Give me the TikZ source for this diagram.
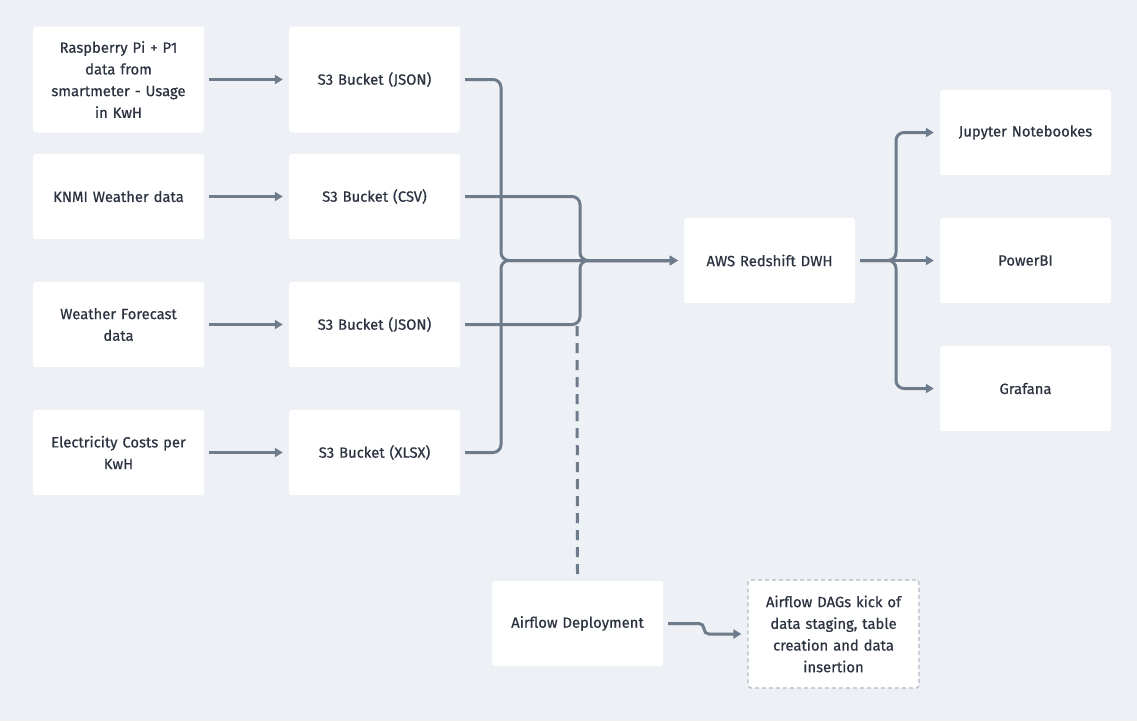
\documentclass[tikz,border=0pt]{standalone}
\usepackage{fontspec}
\setmainfont{Fira Sans}[FakeBold=0.6]
\usetikzlibrary{arrows.meta,calc}
\definecolor{bgc}{HTML}{EDF0F4}
\definecolor{linec}{HTML}{6E7B8B}
\definecolor{txtc}{HTML}{2B3240}
\definecolor{dashc}{HTML}{B3BBC6}
\tikzset{
  box/.style={fill=white, rounded corners=3pt, minimum width=171pt, minimum height=85pt,
    text width=170pt, align=center, text=txtc, font=\fontsize{14.8}{21.7}\selectfont, inner sep=0pt},
  tallbox/.style={box, minimum height=106pt},
  dashbox/.style={box, minimum height=108pt, draw=dashc, dash pattern=on 4pt off 3pt, line width=1.2pt},
  conn/.style={draw=linec, line width=3pt, -{Triangle[length=8pt,width=9pt]}, rounded corners=8pt},
  dashconn/.style={draw=linec, line width=3pt, dash pattern=on 10pt off 7pt}
}
\begin{document}
\begin{tikzpicture}[x=1pt,y=-1pt]
\fill[bgc] (0,0) rectangle (1137,721);
\useasboundingbox (0,0) rectangle (1137,721);
% sources
\node[tallbox] (src1) at (118.5,79.5) {Raspberry Pi + P1\\data from\\smartmeter - Usage\\in KwH};
\node[box] (src2) at (118.5,196.5) {KNMI Weather data};
\node[box] (src3) at (118.5,324.5) {Weather Forecast\\data};
\node[box] (src4) at (118.5,452.5) {Electricity Costs per\\KwH};
% buckets
\node[tallbox] (s3a) at (374.5,79.5) {S3 Bucket (JSON)};
\node[box] (s3b) at (374.5,196.5) {S3 Bucket (CSV)};
\node[box] (s3c) at (374.5,324.5) {S3 Bucket (JSON)};
\node[box] (s3d) at (374.5,452.5) {S3 Bucket (XLSX)};
% dwh
\node[box] (aws) at (769.5,260.5) {AWS Redshift DWH};
% outputs
\node[box] (jup) at (1025.5,132.5) {Jupyter Notebookes};
\node[box] (pbi) at (1025.5,260.5) {PowerBI};
\node[box] (gra) at (1025.5,388.5) {Grafana};
% airflow
\node[box] (afd) at (577.5,623.5) {Airflow Deployment};
\node[dashbox] (dags) at (833.5,634) {Airflow DAGs kick of\\data staging, table\\creation and data\\insertion};

% source -> bucket
\foreach \a/\b in {src1/s3a,src2/s3b,src3/s3c,src4/s3d}{
  \draw[conn] ([xshift=5pt]\a.east) -- ([xshift=-6pt]\b.west);
}
% buckets -> dwh
\coordinate (m1) at (501,260.5);
\coordinate (m2) at (580,260.5);
\coordinate (ain) at ([xshift=-6pt]aws.west);
\draw[conn] ([xshift=5pt]s3a.east) -| (m1) -- (ain);
\draw[conn] ([xshift=5pt]s3d.east) -| (m1) -- (ain);
\draw[conn] ([xshift=5pt]s3b.east) -| (m2) -- (ain);
\draw[conn] ([xshift=5pt]s3c.east) -| (m2) -- (ain);
% dashed airflow link
\coordinate (dtop) at (577,326);
\draw[dashconn] (dtop) -- ([yshift=6pt]afd.north);
% dwh -> outputs
\coordinate (f1) at (896,260.5);
\draw[conn] ([xshift=5pt]aws.east) -- (f1) |- ([xshift=-6pt]jup.west);
\draw[conn] ([xshift=5pt]aws.east) -- (f1) |- ([xshift=-6pt]gra.west);
\draw[conn] ([xshift=5pt]aws.east) -- ([xshift=-6pt]pbi.west);
% airflow -> dags
\coordinate (k1) at (704,623.5);
\draw[conn, rounded corners=5pt] ([xshift=5pt]afd.east) -- (k1) |- ([xshift=-6pt]dags.west);
\end{tikzpicture}
\end{document}
